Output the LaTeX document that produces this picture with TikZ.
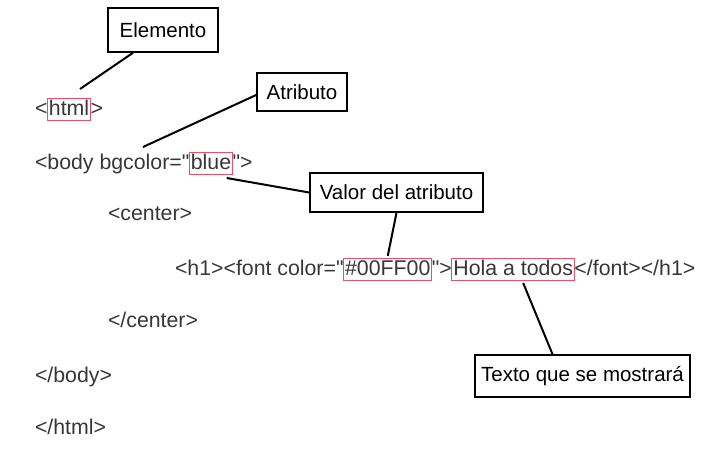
\documentclass[tikz,border=0pt]{standalone}
\usepackage{fontspec}
\setmainfont{Liberation Sans}
\newfontfamily\codefont{Liberation Sans}
\definecolor{codegray}{RGB}{55,55,55}
\definecolor{boxred}{RGB}{232,80,100}
\begin{document}
\begin{tikzpicture}[x=1pt,y=-1pt,
  code/.style={inner sep=0pt, outer sep=0pt, text=codegray, font=\codefont\fontsize{21.3}{24}\selectfont},
  redbox/.style={draw=boxred, line width=1pt, inner sep=1.5pt, outer sep=0pt, text=codegray,
    text height=15.5pt, text depth=3.5pt, font=\codefont\fontsize{21.3}{24}\selectfont},
  label/.style={draw=black, line width=1.6pt, inner sep=0pt, text=black,
    font=\fontsize{20.5}{24}\selectfont},
  conn/.style={draw=black, line width=2pt}
]
\useasboundingbox (0,0) rectangle (713,449);
\fill[white] (0,0) rectangle (713,449);

% line 1
\node[code, anchor=base west] (l1a) at (35,116) {<};
\node[redbox, anchor=base west] (htmlbox) at (l1a.base east) {html};
\node[code, anchor=base west] (l1b) at (htmlbox.base east) {>};

% line 2
\node[code, anchor=base west] (l2a) at (35,170) {<body bgcolor="};
\node[redbox, anchor=base west] (bluebox) at (l2a.base east) {blue};
\node[code, anchor=base west] (l2b) at (bluebox.base east) {">};

% line 3
\node[code, anchor=base west] (l3) at (108,221) {<center>};

% line 4
\node[code, anchor=base west] (l4a) at (175,276) {<h1><font color="};
\node[redbox, anchor=base west] (hexbox) at (l4a.base east) {\#00FF00};
\node[code, anchor=base west] (l4b) at (hexbox.base east) {">};
\node[redbox, anchor=base west] (holabox) at (l4b.base east) {Hola a todos};
\node[code, anchor=base west] (l4c) at (holabox.base east) {</font></h1>};

% lines 5-7
\node[code, anchor=base west] (l5) at (108,328) {</center>};
\node[code, anchor=base west] (l6) at (35,383) {</body>};
\node[code, anchor=base west] (l7) at (35,435) {</html>};

% labels
\node[label, minimum width=110pt, minimum height=44pt] (elem) at (163,30) {Elemento};
\node[label, minimum width=90pt, minimum height=38pt] (atr) at (302,92) {Atributo};
\node[label, minimum width=173pt, minimum height=39pt] (val) at (396.5,192.5) {Valor del atributo};
\node[label, minimum width=215pt, minimum height=42pt] (txt) at (582.5,376) {Texto que se mostrará};

% free ends
\coordinate (elemend) at (80,89);
\coordinate (atrend) at (143,147);

% connectors
\draw[conn] ([xshift=-30pt]elem.south) -- (elemend);
\draw[conn] ([yshift=-3pt]atr.west) -- (atrend);
\draw[conn] ([xshift=-6pt,yshift=-3pt]bluebox.south east) -- (val.west);
\draw[conn] (val.south) -- ([yshift=3pt]hexbox.north);
\draw[conn] ([xshift=10pt,yshift=-2pt]holabox.south) -- ([xshift=-30pt]txt.north);
\end{tikzpicture}
\end{document}
